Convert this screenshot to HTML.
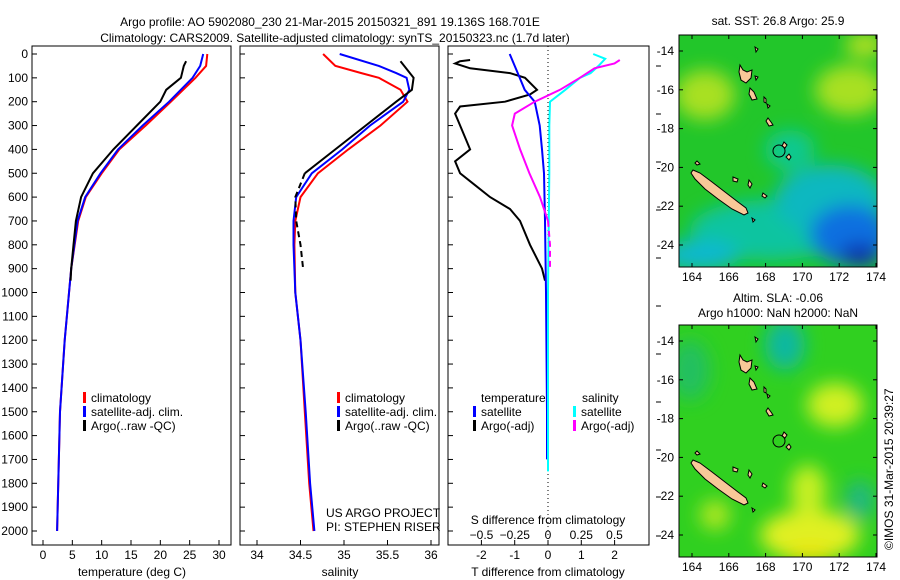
<!DOCTYPE html>
<html><head><meta charset="utf-8">
<style>
body{margin:0;background:#fff;}
svg{display:block;font-family:"Liberation Sans",sans-serif;}
text{font-size:12px;fill:#000;}
</style></head>
<body>
<svg id="c" width="900" height="580" viewBox="0 0 900 580">
<defs>
<filter id="bl" x="-50%" y="-50%" width="200%" height="200%"><feGaussianBlur stdDeviation="9"/></filter>
<clipPath id="m1"><rect x="679" y="35" width="198" height="232"/></clipPath>
<clipPath id="m2"><rect x="679" y="325" width="198" height="232"/></clipPath>
</defs>
<text x="330" y="26" text-anchor="middle">Argo profile: AO 5902080_230 21-Mar-2015 20150321_891 19.136S 168.701E</text>
<text x="335" y="42" text-anchor="middle">Climatology: CARS2009. Satellite-adjusted climatology: synTS_20150323.nc (1.7d later)</text>

<g>
<text x="778" y="25" text-anchor="middle">sat. SST: 26.8 Argo: 25.9</text>
<g clip-path="url(#m1)">
<rect x="679" y="35" width="198" height="232" fill="#22c62a"/>
<g filter="url(#bl)">
<ellipse cx="705" cy="95" rx="30" ry="25" fill="#a8e020"/>
<ellipse cx="850" cy="90" rx="35" ry="25" fill="#a8e020"/>
<ellipse cx="865" cy="45" rx="20" ry="12" fill="#b8e020"/>
<ellipse cx="790" cy="150" rx="25" ry="20" fill="#10c890"/>
<ellipse cx="770" cy="230" rx="80" ry="30" fill="#10c4a0"/>
<ellipse cx="830" cy="200" rx="55" ry="35" fill="#10b8c0"/>
<ellipse cx="850" cy="235" rx="40" ry="30" fill="#1070e0"/>
<ellipse cx="700" cy="255" rx="40" ry="15" fill="#10b8d0"/>
<ellipse cx="860" cy="255" rx="20" ry="12" fill="#0830b0"/>
</g>
</g>
<g id="isl1"></g>
<circle cx="779" cy="151" r="6" fill="none" stroke="#000"/>
<rect x="679" y="35" width="198" height="232" fill="none" stroke="#000"/>
<g id="ax1"></g>
</g>

<g>
<text x="778" y="302" text-anchor="middle">Altim. SLA: -0.06</text>
<text x="778" y="317" text-anchor="middle">Argo h1000: NaN h2000: NaN</text>
<g clip-path="url(#m2)">
<rect x="679" y="325" width="198" height="232" fill="#30d020"/>
<g filter="url(#bl)">
<ellipse cx="785" cy="345" rx="20" ry="25" fill="#10b8a0"/>
<ellipse cx="690" cy="370" rx="20" ry="30" fill="#20c060"/>
<ellipse cx="835" cy="405" rx="28" ry="22" fill="#d0f020"/>
<ellipse cx="810" cy="535" rx="50" ry="25" fill="#e0f020"/>
<ellipse cx="808" cy="490" rx="18" ry="25" fill="#c8f020"/>
<ellipse cx="715" cy="515" rx="15" ry="15" fill="#b0e820"/>
<ellipse cx="860" cy="500" rx="15" ry="20" fill="#20b880"/>
<ellipse cx="810" cy="555" rx="25" ry="8" fill="#f0e000"/>
</g>
</g>
<g id="isl2"></g>
<circle cx="779" cy="441" r="6" fill="none" stroke="#000"/>
<rect x="679" y="325" width="198" height="232" fill="none" stroke="#000"/>
<g id="ax2"></g>
</g>
<text transform="translate(893,550) rotate(-90)">©IMOS 31-Mar-2015 20:39:27</text>

<g id="plots"></g>
</svg>
<script>
const tClimDepth=[0,50,100,200,300,400,500,600,700,900,1200,1500,2000];
const tClim=[28,27.8,26,21.8,17.5,13,10,7.3,6,4.8,3.7,2.9,2.4];
const tSat=[27.3,26.8,25.5,21.5,17,12.8,9.8,7.2,5.9,4.8,3.7,2.9,2.4];
const argoDepth=[30,50,100,150,200,300,400,500,600,700,800,900,950];
const tArgo=[24.4,24,23.5,21,20,16,12,8.5,6.5,5.6,5.2,4.8,4.7];
const sClimDepth=[0,50,80,100,150,200,300,400,500,600,700,800,1000,1200,1500,1800,2000];
const sClim=[34.76,34.9,35.2,35.4,35.65,35.73,35.42,35.05,34.7,34.5,34.44,34.43,34.44,34.5,34.55,34.6,34.65];
const sSat=[34.95,35.4,35.6,35.72,35.75,35.68,35.3,34.98,34.63,34.45,34.42,34.42,34.44,34.5,34.56,34.61,34.66];
const sArgoDepth=[30,100,150,200,300,400,500,600,700,800,900];
const sArgo=[35.65,35.8,35.78,35.6,35.25,34.9,34.55,34.44,34.45,34.5,34.53];
const dTArgoDepth=[25,30,40,60,80,100,150,170,200,220,250,300,400,450,500,550,600,650,700,800,900,950];
const dTArgo=[-2.34,-2.64,-2.79,-2.34,-1.14,-0.69,-0.33,-0.54,-1.29,-2.64,-2.79,-2.64,-2.34,-2.79,-2.64,-2.19,-1.74,-1.14,-0.84,-0.54,-0.18,-0.09];
const dTSatDepth=[0,50,100,150,200,300,400,500,700,1000,1500,1700];
const dTSat=[-1.15,-1.0,-0.85,-0.7,-0.4,-0.25,-0.18,-0.12,-0.09,-0.06,-0.03,-0.03];
const dSSatDepth=[0,20,50,80,100,150,200,300,500,1000,1500,1750];
const dSSat=[0.34,0.43,0.38,0.32,0.24,0.13,0.015,0.01,0.01,0,0,0];
const dSArgoDepth=[25,40,60,100,150,200,250,300,400,500,600,700,800,900];
const dSArgo=[0.54,0.5,0.35,0.24,0.09,-0.1,-0.25,-0.27,-0.21,-0.14,-0.06,0,0.015,0.015];
const depthTicks=[0,100,200,300,400,500,600,700,800,900,1000,1100,1200,1300,1400,1500,1600,1700,1800,1900,2000];
const tTicks=[0,5,10,15,20,25,30];
const sTicks=[34,34.5,35,35.5,36];
const dTTicks=[-2,-1,0,1,2];
const dSTicks=["-0.5","-0.25","0","0.25","0.5"];
const lonTicks=[164,166,168,170,172,174];
const latTicks=[14,16,18,20,22,24];

const NS="http://www.w3.org/2000/svg";
const root=document.getElementById('plots');
function mk(tag,attrs,parent,txt){const e=document.createElementNS(NS,tag);for(const k in attrs)e.setAttribute(k,attrs[k]);if(txt!==undefined)e.textContent=txt;(parent||root).appendChild(e);return e;}
const yD=d=>54+d*(531-54)/2000;
const xT=t=>43+t*(219-43)/30;
const xS=s=>257+(s-34)*(431-257)/2;
const xDT=t=>548+t*33.3;
const xDS=s=>548+s*133;
const TOP=46,BOT=545;

function frame(x0,x1,name){
  const r=mk('rect',{x:x0,y:TOP,width:x1-x0,height:BOT-TOP,fill:'none',stroke:'#000'});
  
  
}
function line(xs,ds,xf,color,name,dash){
  const pts=xs.map((v,i)=>xf(v).toFixed(1)+','+yD(ds[i]).toFixed(1)).join(' ');
  const p=mk('polyline',{points:pts,fill:'none',stroke:color,'stroke-width':2});
  if(dash)p.setAttribute('stroke-dasharray',dash);
  
  
}
function xticks(vals,labels,xf,y,name){
  vals.forEach((v,i)=>{
    mk('line',{x1:xf(v),x2:xf(v),y1:BOT,y2:BOT-5,stroke:'#000'});
    const t=mk('text',{x:xf(v),y:y,'text-anchor':'middle'},root,labels[i]);
    
    
  });
}
frame(32,231,'temperature-panel-frame');
frame(240,439,'salinity-panel-frame');
frame(448,649,'difference-panel-frame');
depthTicks.forEach(d=>{
  mk('line',{x1:32,x2:37,y1:yD(d),y2:yD(d),stroke:'#000'});
  mk('line',{x1:240,x2:245,y1:yD(d),y2:yD(d),stroke:'#000'});
  mk('line',{x1:448,x2:453,y1:yD(d),y2:yD(d),stroke:'#000'});
  const t=mk('text',{x:28,y:yD(d)+4,'text-anchor':'end'},root,String(d));
  
  
});
[66,114,162,210,258,306,354,402,450,497,536].forEach(y=>mk('line',{x1:656,x2:661,y1:y,y2:y,stroke:'#000'}));
xticks(tTicks,tTicks.map(String),xT,559,'temperature');
xticks(sTicks,sTicks.map(String),xS,559,'salinity');
xticks(dTTicks,dTTicks.map(String),xDT,559,'t-difference');
dSTicks.forEach(l=>{const v=parseFloat(l);const t=mk('text',{x:xDS(v),y:539,'text-anchor':'middle'},root,l.replace('-','\u2212'));
  });
[['temperature (deg C)',132,576,'temperature-axis-title'],['salinity',340,576,'salinity-axis-title'],['T difference from climatology',548,576,'t-difference-axis-title'],['S difference from climatology',548,524,'s-difference-axis-title']].forEach(a=>{
  const t=mk('text',{x:a[1],y:a[2],'text-anchor':'middle'},root,a[0]);
  });
mk('line',{x1:548,x2:548,y1:TOP,y2:BOT,stroke:'#000','stroke-dasharray':'1,3'});
line(tClim,tClimDepth,xT,'#f00','temp-climatology-line');
line(tSat,tClimDepth,xT,'#00f','temp-satellite-line');
line(tArgo,argoDepth,xT,'#000','temp-argo-line');
line(sClim,sClimDepth,xS,'#f00','sal-climatology-line');
line(sSat,sClimDepth,xS,'#00f','sal-satellite-line');
line(sArgo.slice(0,7),sArgoDepth.slice(0,7),xS,'#000','sal-argo-line');
line(sArgo.slice(6),sArgoDepth.slice(6),xS,'#000','sal-argo-deep-line','6,4');
line(dTArgo,dTArgoDepth,xDT,'#000','t-diff-argo-line');
line(dTSat,dTSatDepth,xDT,'#00f','t-diff-satellite-line');
line(dSSat,dSSatDepth,xDS,'#0ff','s-diff-satellite-line');
line(dSArgo.slice(0,12),dSArgoDepth.slice(0,12),xDS,'#f0f','s-diff-argo-line');
line(dSArgo.slice(11),dSArgoDepth.slice(11),xDS,'#f0f','s-diff-argo-deep-line','6,4');
function leg(x,y,color,label,name){
  mk('rect',{x:x,y:y-10,width:3,height:11,fill:color});
  const t=mk('text',{x:x+8,y:y},root,label);
  
  
}
leg(83,402,'#f00','climatology','legend-climatology');
leg(83,416,'#00f','satellite-adj. clim.','legend-satellite-adj');
leg(83,430,'#000','Argo(..raw -QC)','legend-argo');
leg(337,402,'#f00','climatology','legend-climatology-2');
leg(337,416,'#00f','satellite-adj. clim.','legend-satellite-adj-2');
leg(337,430,'#000','Argo(..raw -QC)','legend-argo-2');
mk('text',{x:481,y:402},root,'temperature');
mk('text',{x:582,y:402},root,'salinity');
leg(473,416,'#00f','satellite','legend-t-satellite');
leg(473,430,'#000','Argo(-adj)','legend-t-argo');
leg(573,416,'#0ff','satellite','legend-s-satellite');
leg(573,430,'#f0f','Argo(-adj)','legend-s-argo');
mk('text',{x:326,y:517},root,'US ARGO PROJECT');
mk('text',{x:326,y:531},root,'PI: STEPHEN RISER');
function mapAxes(g,top,bot,lat14,lat24){
  const gx=document.getElementById(g);
  const lx=l=>692+(l-164)*18.4;
  const ly=l=>lat14+(l-14)*(lat24-lat14)/10;
  lonTicks.forEach(l=>{
    mk('line',{x1:lx(l),x2:lx(l),y1:bot,y2:bot-4,stroke:'#000'},gx);
    mk('line',{x1:lx(l),x2:lx(l),y1:top,y2:top+4,stroke:'#000'},gx);
    const t=mk('text',{x:lx(l),y:bot+14,'text-anchor':'middle'},gx,String(l));
    
  });
  latTicks.forEach(l=>{
    mk('line',{x1:679,x2:683,y1:ly(l),y2:ly(l),stroke:'#000'},gx);
    mk('line',{x1:873,x2:877,y1:ly(l),y2:ly(l),stroke:'#000'},gx);
    const t=mk('text',{x:674,y:ly(l)+4,'text-anchor':'end'},gx,'-'+l);
    
  });
}
mapAxes('ax1',35,267,51,245);
mapAxes('ax2',325,557,341,535);
const islands=[
 "693,170 700,173 712,182 725,192 738,202 746,208 748,213 744,215 732,209 718,199 705,189 695,179 691,173",
 "740,65 743,70 747,72 752,70 751,78 746,83 741,80 739,72",
 "750,88 754,92 757,99 752,100 749,94",
 "768,118 771,122 773,125 769,126 766,121",
 "764,97 766,99 766,103 764,102",
 "767,104 770,106 768,108",
 "784,142 787,145 785,148 782,146",
 "789,154 791,157 789,160 786,157",
 "733,177 738,179 737,182 733,181",
 "749,180 752,184 750,188 748,185",
 "763,193 767,196 765,198 762,196",
 "755,76 758,77 756,80",
 "755,47 758,49 756,52",
 "697,161 700,164 697,165 695,163",
 "752,218 755,220 753,222"
];
['isl1','isl2'].forEach((id,k)=>{
  const g=document.getElementById(id);
  islands.forEach(p=>{
    const e=mk('polygon',{points:p,fill:'#f8c898',stroke:'#000','stroke-width':1,transform:'translate(0,'+(k*290)+')'},g);
    
    
  });
});
</script>
</body></html>
